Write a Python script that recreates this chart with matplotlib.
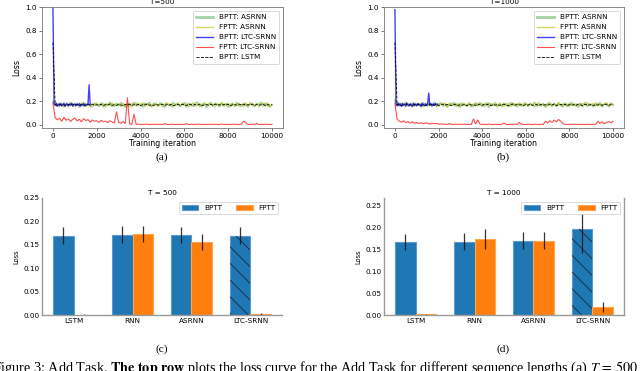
import numpy as np
import matplotlib
matplotlib.use("Agg")
import matplotlib.pyplot as plt

plt.rcParams['font.family'] = ['DejaVu Sans']
plt.rcParams['mathtext.fontset'] = 'stix'
plt.rcParams['hatch.linewidth'] = 0.6

# ---------------- line data (loss curves) ----------------
iters = np.arange(0, 10001, 100)

green_a = [0.190, 0.172, 0.158, 0.181, 0.166, 0.153, 0.184, 0.169, 0.188, 0.157,
           0.174, 0.182, 0.151, 0.168, 0.189, 0.160, 0.178, 0.165, 0.155, 0.183,
           0.170, 0.159, 0.186, 0.152, 0.177, 0.167, 0.190, 0.156, 0.173, 0.181,
           0.162, 0.187, 0.169, 0.150, 0.179, 0.158, 0.175, 0.188, 0.161, 0.180,
           0.166, 0.153, 0.184, 0.171, 0.189, 0.157, 0.176, 0.182, 0.160, 0.186,
           0.168, 0.151, 0.179, 0.172, 0.158, 0.190, 0.165, 0.183, 0.155, 0.174,
           0.187, 0.152, 0.180, 0.167, 0.159, 0.185, 0.191, 0.156, 0.172, 0.181,
           0.150, 0.176, 0.188, 0.161, 0.183, 0.169, 0.154, 0.186, 0.171, 0.178,
           0.153, 0.170, 0.184, 0.158, 0.189, 0.166, 0.160, 0.182, 0.173, 0.151,
           0.187, 0.168, 0.157, 0.180, 0.175, 0.190, 0.159, 0.183, 0.164, 0.152,
           0.172]
yellow_a = [0.200, 0.165, 0.179, 0.154, 0.183, 0.161, 0.176, 0.150, 0.185, 0.168,
            0.157, 0.181, 0.163, 0.187, 0.155, 0.172, 0.184, 0.152, 0.178, 0.166,
            0.186, 0.158, 0.174, 0.182, 0.151, 0.177, 0.162, 0.188, 0.156, 0.171,
            0.180, 0.153, 0.185, 0.167, 0.159, 0.183, 0.150, 0.175, 0.186, 0.160,
            0.173, 0.189, 0.155, 0.178, 0.164, 0.152, 0.184, 0.169, 0.157, 0.181,
            0.154, 0.176, 0.187, 0.161, 0.182, 0.150, 0.171, 0.185, 0.158, 0.179,
            0.165, 0.183, 0.153, 0.174, 0.188, 0.156, 0.169, 0.180, 0.151, 0.186,
            0.177, 0.159, 0.184, 0.163, 0.152, 0.181, 0.170, 0.187, 0.155, 0.175,
            0.182, 0.150, 0.178, 0.166, 0.185, 0.158, 0.173, 0.154, 0.188, 0.162,
            0.171, 0.184, 0.156, 0.180, 0.151, 0.176, 0.183, 0.160, 0.187, 0.153,
            0.168]
lstm_a = [0.700, 0.172, 0.165, 0.176, 0.168, 0.171, 0.163, 0.174, 0.169, 0.177,
          0.166, 0.172, 0.164, 0.175, 0.170, 0.162, 0.173, 0.168, 0.176, 0.165,
          0.171, 0.167, 0.174, 0.163, 0.172, 0.169, 0.177, 0.166, 0.170, 0.164,
          0.175, 0.168, 0.162, 0.173, 0.170, 0.176, 0.165, 0.171, 0.167, 0.174,
          0.163, 0.172, 0.169, 0.177, 0.166, 0.170, 0.164, 0.175, 0.168, 0.171,
          0.176, 0.165, 0.172, 0.167, 0.174, 0.162, 0.170, 0.173, 0.166, 0.175,
          0.169, 0.164, 0.177, 0.171, 0.166, 0.173, 0.168, 0.175, 0.163, 0.170,
          0.172, 0.167, 0.174, 0.165, 0.176, 0.169, 0.171, 0.164, 0.173, 0.168,
          0.175, 0.163, 0.170, 0.172, 0.166, 0.177, 0.168, 0.174, 0.165, 0.171,
          0.169, 0.176, 0.164, 0.173, 0.167, 0.170, 0.175, 0.162, 0.172, 0.168,
          0.171]
blue_iters_a = np.arange(0, 1701, 50)
blue_a = [1.000, 0.180, 0.165, 0.185, 0.158, 0.176, 0.163, 0.181, 0.160, 0.172,
          0.184, 0.157, 0.170, 0.179, 0.161, 0.175, 0.166, 0.183, 0.159, 0.171,
          0.178, 0.162, 0.174, 0.167, 0.182, 0.158, 0.173, 0.165, 0.180, 0.161,
          0.176, 0.168, 0.172, 0.340, 0.170]
red_a = [0.180, 0.060, 0.042, 0.055, 0.030, 0.065, 0.038, 0.050, 0.028, 0.045,
         0.058, 0.032, 0.047, 0.025, 0.052, 0.036, 0.044, 0.022, 0.040, 0.030,
         0.035, 0.020, 0.038, 0.026, 0.031, 0.018, 0.034, 0.024, 0.015, 0.110,
         0.020, 0.012, 0.028, 0.010, 0.230, 0.006, 0.004, 0.090, 0.003, 0.005,
         0.002, 0.004, 0.003, 0.006, 0.002, 0.003, 0.005, 0.002, 0.004, 0.003,
         0.002, 0.010, 0.003, 0.002, 0.005, 0.003, 0.002, 0.004, 0.003, 0.002,
         0.003, 0.009, 0.002, 0.004, 0.003, 0.002, 0.005, 0.003, 0.002, 0.004,
         0.002, 0.003, 0.005, 0.002, 0.004, 0.003, 0.002, 0.006, 0.003, 0.002,
         0.004, 0.002, 0.003, 0.005, 0.002, 0.003, 0.004, 0.030, 0.018, 0.003,
         0.002, 0.004, 0.003, 0.012, 0.002, 0.003, 0.002, 0.004, 0.003, 0.002,
         0.003]

green_b = [0.205, 0.168, 0.182, 0.157, 0.176, 0.189, 0.161, 0.173, 0.154, 0.184,
           0.166, 0.179, 0.152, 0.187, 0.170, 0.158, 0.183, 0.164, 0.190, 0.156,
           0.175, 0.186, 0.160, 0.171, 0.153, 0.181, 0.167, 0.188, 0.159, 0.177,
           0.150, 0.183, 0.169, 0.162, 0.186, 0.155, 0.174, 0.180, 0.163, 0.189,
           0.158, 0.172, 0.185, 0.151, 0.178, 0.166, 0.187, 0.160, 0.176, 0.154,
           0.182, 0.169, 0.157, 0.188, 0.164, 0.175, 0.152, 0.184, 0.171, 0.161,
           0.186, 0.155, 0.177, 0.168, 0.190, 0.159, 0.173, 0.163, 0.181, 0.150,
           0.174, 0.187, 0.162, 0.179, 0.156, 0.185, 0.167, 0.153, 0.183, 0.170,
           0.160, 0.189, 0.165, 0.176, 0.151, 0.180, 0.172, 0.186, 0.158, 0.178,
           0.168, 0.154, 0.184, 0.163, 0.188, 0.157, 0.175, 0.181, 0.152, 0.185,
           0.170]
yellow_b = [0.215, 0.175, 0.160, 0.186, 0.168, 0.153, 0.181, 0.164, 0.189, 0.157,
            0.178, 0.162, 0.185, 0.151, 0.173, 0.188, 0.159, 0.176, 0.166, 0.183,
            0.155, 0.180, 0.169, 0.187, 0.152, 0.174, 0.184, 0.161, 0.177, 0.150,
            0.186, 0.165, 0.179, 0.156, 0.182, 0.170, 0.153, 0.188, 0.163, 0.175,
            0.181, 0.154, 0.172, 0.189, 0.160, 0.178, 0.167, 0.151, 0.185, 0.169,
            0.158, 0.183, 0.176, 0.152, 0.187, 0.164, 0.180, 0.171, 0.155, 0.186,
            0.173, 0.160, 0.182, 0.168, 0.154, 0.179, 0.189, 0.162, 0.175, 0.157,
            0.184, 0.170, 0.151, 0.177, 0.165, 0.188, 0.159, 0.181, 0.167, 0.153,
            0.186, 0.163, 0.178, 0.156, 0.172, 0.183, 0.150, 0.176, 0.190, 0.161,
            0.174, 0.182, 0.158, 0.185, 0.166, 0.153, 0.179, 0.187, 0.162, 0.180,
            0.168]
lstm_b = [0.700, 0.168, 0.175, 0.164, 0.172, 0.177, 0.166, 0.170, 0.163, 0.174,
          0.169, 0.176, 0.165, 0.171, 0.162, 0.173, 0.168, 0.175, 0.167, 0.172,
          0.164, 0.170, 0.177, 0.166, 0.174, 0.169, 0.163, 0.172, 0.176, 0.165,
          0.171, 0.167, 0.173, 0.162, 0.175, 0.168, 0.170, 0.164, 0.177, 0.169,
          0.166, 0.174, 0.170, 0.176, 0.163, 0.171, 0.167, 0.173, 0.165, 0.172,
          0.175, 0.168, 0.162, 0.170, 0.177, 0.166, 0.174, 0.169, 0.171, 0.164,
          0.173, 0.167, 0.176, 0.165, 0.170, 0.172, 0.163, 0.175, 0.168, 0.171,
          0.166, 0.174, 0.169, 0.177, 0.164, 0.170, 0.173, 0.167, 0.175, 0.162,
          0.172, 0.168, 0.171, 0.165, 0.176, 0.169, 0.163, 0.174, 0.170, 0.167,
          0.175, 0.164, 0.172, 0.168, 0.173, 0.166, 0.177, 0.170, 0.165, 0.171,
          0.169]
blue_iters_b = np.arange(0, 1951, 50)
blue_b = [0.980, 0.175, 0.160, 0.186, 0.163, 0.178, 0.157, 0.182, 0.166, 0.174,
          0.159, 0.185, 0.168, 0.161, 0.179, 0.170, 0.156, 0.183, 0.165, 0.176,
          0.160, 0.181, 0.167, 0.173, 0.158, 0.184, 0.169, 0.162, 0.178, 0.166,
          0.175, 0.270, 0.168, 0.180, 0.159, 0.177, 0.164, 0.182, 0.170, 0.175]
red_b = [0.180, 0.050, 0.030, 0.022, 0.034, 0.018, 0.028, 0.015, 0.025, 0.012,
         0.020, 0.010, 0.018, 0.008, 0.016, 0.012, 0.006, 0.014, 0.009, 0.011,
         0.005, 0.008, 0.004, 0.006, 0.003, 0.010, 0.004, 0.003, 0.005, 0.002,
         0.004, 0.003, 0.006, 0.002, 0.004, 0.003, 0.050, 0.008, 0.040, 0.006,
         0.003, 0.004, 0.002, 0.005, 0.003, 0.002, 0.004, 0.003, 0.002, 0.005,
         0.015, 0.003, 0.002, 0.004, 0.003, 0.006, 0.002, 0.020, 0.004, 0.003,
         0.002, 0.005, 0.003, 0.002, 0.004, 0.003, 0.002, 0.004, 0.003, 0.030,
         0.015, 0.035, 0.020, 0.040, 0.025, 0.045, 0.030, 0.010, 0.004, 0.003,
         0.002, 0.004, 0.003, 0.005, 0.002, 0.003, 0.004, 0.002, 0.003, 0.004,
         0.002, 0.003, 0.004, 0.030, 0.012, 0.025, 0.008, 0.020, 0.028, 0.015,
         0.030]

# ---------------- bar data ----------------
categories = ['LSTM', 'RNN', 'ASRNN', 'LTC-SRNN']
bptt_500 = [0.169, 0.172, 0.171, 0.169]
bptt_500_err = [0.018, 0.019, 0.017, 0.018]
fptt_500 = [0.0005, 0.173, 0.156, 0.002]
fptt_500_err = [0.001, 0.018, 0.018, 0.002]
bptt_1000 = [0.167, 0.168, 0.170, 0.197]
bptt_1000_err = [0.018, 0.019, 0.019, 0.055]
fptt_1000 = [0.002, 0.174, 0.170, 0.018]
fptt_1000_err = [0.001, 0.023, 0.019, 0.011]

W, H = 640, 371
fig = plt.figure(figsize=(W / 100, H / 100), dpi=100)


def box(l, t, r, b):
    return [l / W, 1 - b / H, (r - l) / W, (b - t) / H]


FS = 5.2


def line_panel(rect, title, g, y, lstm, bx, bl, rd):
    ax = fig.add_axes(rect)
    ax.plot(iters, g, color='green', alpha=0.35, lw=1.3, label='BPTT: ASRNN')
    ax.plot(iters, y, color='y', alpha=0.6, lw=1.0, label='FPTT: ASRNN')
    ax.plot(bx, bl, color='b', alpha=0.75, lw=1.0, label='BPTT: LTC-SRNN')
    ax.plot(iters, rd, color='r', alpha=0.7, lw=0.8, label='FPTT: LTC-SRNN')
    ax.plot(iters, lstm, 'k--', lw=0.6, label='BPTT: LSTM')
    ax.set_xlim(-500, 10500)
    ax.set_ylim(-0.025, 1.0)
    ax.set_xticks([0, 2000, 4000, 6000, 8000, 10000])
    ax.set_yticks([0.0, 0.2, 0.4, 0.6, 0.8, 1.0])
    ax.tick_params(labelsize=FS, length=2, width=0.5, pad=1.5, color='#444')
    for s in ax.spines.values():
        s.set_color('#777')
        s.set_linewidth(0.6)
    ax.set_xlabel('Training iteration', fontsize=5.6, labelpad=0.5)
    ax.set_ylabel('Loss', fontsize=5.6, labelpad=3)
    ax.set_title(title, fontsize=FS, pad=2.5)
    leg = ax.legend(loc='upper right', fontsize=FS, handlelength=2.4,
                    labelspacing=0.55, borderpad=0.45, framealpha=1.0,
                    edgecolor='#ccc')
    leg.get_lines()[0].set_linewidth(2.0)
    leg.get_frame().set_linewidth(0.5)
    return ax


line_panel(box(42, 7.3, 283, 127.7), 'T=500', green_a, yellow_a, lstm_a,
           blue_iters_a, blue_a, red_a)
line_panel(box(384, 7.3, 624, 127.7), 'T=1000', green_b, yellow_b, lstm_b,
           blue_iters_b, blue_b, red_b)


def bar_panel(rect, title, b, be, f, fe, ytop, right_spine):
    ax = fig.add_axes(rect)
    x = np.arange(len(categories))
    w = 0.35
    ax.bar(x - w / 2, b, w, color='#1f77b4', edgecolor='#5b9bd0',
           linewidth=0.8, label='BPTT')
    ax.bar(x + w / 2, f, w, color='#ff7f0e', edgecolor='#ffa54d',
           linewidth=0.8, label='FPTT')
    # hatched overlay on the LTC-SRNN BPTT bar
    ax.bar(x[3:] - w / 2, b[3:], w, fill=False, hatch='\\\\',
           edgecolor='#1a2a3a', linewidth=0)
    ax.errorbar(x - w / 2, b, yerr=be, fmt='none', ecolor='#111', elinewidth=0.9,
                alpha=0.85)
    ax.errorbar(x + w / 2, f, yerr=fe, fmt='none', ecolor='#111', elinewidth=0.9,
                alpha=0.85)
    ax.set_xlim(-0.535, 3.535)
    ax.set_ylim(0, ytop)
    ax.set_yticks([0.0, 0.05, 0.10, 0.15, 0.20, 0.25])
    ax.set_yticklabels(['0.00', '0.05', '0.10', '0.15', '0.20', '0.25'])
    ax.set_xticks(x)
    ax.set_xticklabels(categories)
    ax.tick_params(labelsize=FS, length=0, pad=2)
    ax.spines['top'].set_visible(False)
    ax.spines['right'].set_visible(right_spine)
    for s in ax.spines.values():
        s.set_color('#9a9a9a')
        s.set_linewidth(1.0)
    ax.set_ylabel('Loss', fontsize=4.8, labelpad=3)
    ax.set_title(title, fontsize=FS, pad=2)
    leg = ax.legend(loc='upper right', ncol=2, fontsize=FS, handlelength=2.3,
                    handleheight=0.9, columnspacing=1.9, borderpad=0.4,
                    framealpha=1.0, edgecolor='#ccc')
    leg.get_frame().set_linewidth(0.5)
    return ax


bar_panel(box(42, 198, 282, 315), 'T = 500', bptt_500, bptt_500_err,
          fptt_500, fptt_500_err, 0.25, False)
bar_panel(box(384, 198, 624, 315), 'T = 1000', bptt_1000, bptt_1000_err,
          fptt_1000, fptt_1000_err, 0.268, True)

serif = ['Liberation Serif', 'DejaVu Serif']
for lab, (px, py) in zip(['(a)', '(b)', '(c)', '(d)'],
                         [(162, 157), (503, 157), (162, 349), (503, 349)]):
    fig.text(px / W, 1 - py / H, lab, ha='center', va='center', fontsize=8.2,
             family=serif)

fig.text(-7 / W, 1 - 371.5 / H,
         r"Figure 3: Add Task. $\mathbf{The\ top\ row}$ plots the loss curve for the "
         r"Add Task for different sequence lengths (a) $T\,=\,500$",
         ha='left', va='baseline', fontsize=10.2, family=serif)

fig.savefig('out.png', dpi=100, facecolor='white')
